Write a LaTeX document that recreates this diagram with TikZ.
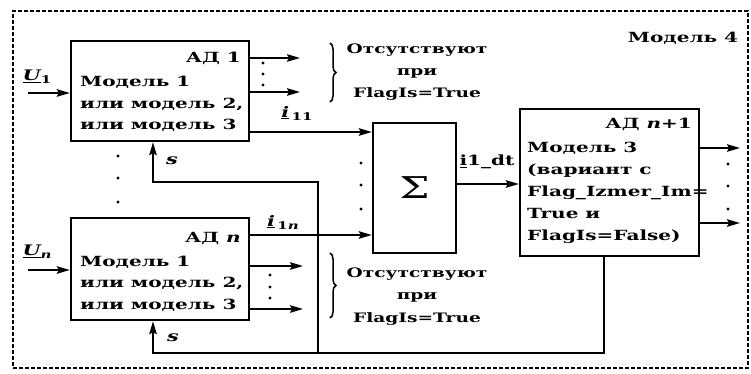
\documentclass[tikz,border=0pt]{standalone}
\usepackage{fontspec}
\setmainfont{DejaVu Serif}[FakeStretch=1.43]
\usetikzlibrary{arrows.meta,decorations.pathreplacing}
\begin{document}
\begin{tikzpicture}[x=1pt,y=-1pt,
  box/.style={draw,line width=2.4pt,inner sep=0pt},
  conn/.style={line width=1.8pt},
  arr/.style={conn,-{Stealth[length=13pt,width=7.5pt,inset=2pt]}},
  txt/.style={inner sep=0pt,font=\fontsize{14}{21.5}\selectfont\bfseries},
  abst/.style={inner sep=0pt,align=center,anchor=base,font=\fontsize{13}{22}\selectfont\bfseries},
  lbl/.style={inner sep=0pt,font=\fontsize{14.5}{16}\selectfont\bfseries\itshape},
  dot/.style={circle,fill,inner sep=0pt,minimum size=3.4pt},
  br/.style={decorate,decoration={brace,amplitude=6pt},line width=1.5pt}]
\useasboundingbox (0,0) rectangle (751,374);
\node[draw,line width=1.2pt,dash pattern=on 4pt off 2pt,minimum width=735pt,minimum height=357pt,inner sep=0pt] (frame) at (380.5,189.5) {};
% boxes
\node[box,minimum width=178pt,minimum height=100pt] (ad1) at (160,91) {};
\node[box,minimum width=178pt,minimum height=102pt] (adn) at (160,269) {};
\node[box,minimum width=83pt,minimum height=130pt] (sum) at (414.5,188) {};
\node[box,minimum width=179pt,minimum height=147pt] (adn1) at (609.5,182.5) {};
% texts (base anchor of a multi-line node = last line)
\node[txt,anchor=base east] (ad1t) at (241,63) {АД 1};
\node[txt,anchor=base west,align=left] (ad1m) at (80,130) {Модель 1\\или модель 2,\\или модель 3};
\node[txt,anchor=base east] (adnt) at (241,242) {АД \textit{n}};
\node[txt,anchor=base west,align=left] (adnm) at (80,309) {Модель 1\\или модель 2,\\или модель 3};
\node[txt,anchor=base east] (adn1t) at (692,129) {АД \textit{n}+1};
\node[txt,anchor=base west,align=left,font=\fontsize{14}{22}\selectfont\bfseries] (adn1m) at (527,240) {Модель 3\\(вариант с\\Flag\_Izmer\_Im=\\True и\\FlagIs=False)};
\node[inner sep=0pt,font=\fontsize{30}{30}\selectfont] (sig) at (sum.center) {Σ};
\node[txt,anchor=base] (m4) at (683,43) {Модель 4};
\node[abst] (abs1) at (417,98) {Отсутствуют\\при\\FlagIs=True};
\node[abst,font=\fontsize{13}{22.5}\selectfont\bfseries] (abs2) at (417,322) {Отсутствуют\\при\\FlagIs=True};
% labels
\node[lbl] (u1) at (37,77) {\underline{U}\raisebox{-3pt}{\upshape\fontsize{10.5}{10}\selectfont 1}};
\node[lbl] (un) at (37,252) {\underline{U}\raisebox{-3pt}{\fontsize{10.5}{10}\selectfont n}};
\node[lbl] (i11) at (297,113) {\underline{i}\,\raisebox{-3pt}{\upshape\fontsize{10.5}{10}\selectfont 11}};
\node[lbl] (i1n) at (283,222) {\underline{i}\,\raisebox{-3pt}{\upshape\fontsize{10.5}{10}\selectfont 1\itshape n}};
\node[txt] (idt) at (487,162) {\underline{i}1\_dt};
\node[lbl] (s1) at (172,161) {s};
\node[lbl] (s2) at (173,338) {s};
% coordinates
\coordinate (u1s) at (28,93);
\coordinate (uns) at (28,270);
\coordinate (o1a) at (300,58);
\coordinate (o1b) at (300,92);
\coordinate (ona) at (303,266);
\coordinate (onb) at (303,309);
\coordinate (y11) at (0,132);
\coordinate (y1n) at (0,235);
\coordinate (ydt) at (0,184);
\coordinate (r1) at (740,148);
\coordinate (r2) at (740,223);
\coordinate (fbA) at (604,353);
\coordinate (fbB) at (153,353);
\coordinate (fbC) at (318,353);
\coordinate (fbD) at (318,182);
\coordinate (fbE) at (153,182);
% connectors
\draw[arr] (u1s) -- (u1s -| ad1.west);
\draw[arr] (uns) -- (uns -| adn.west);
\draw[arr] (ad1.east |- o1a) -- (o1a);
\draw[arr] (ad1.east |- o1b) -- (o1b);
\draw[arr] (adn.east |- ona) -- (ona);
\draw[arr] (adn.east |- onb) -- (onb);
\draw[arr] (ad1.east |- y11) -- (sum.west |- y11);
\draw[arr] (adn.east |- y1n) -- (sum.west |- y1n);
\draw[arr] (sum.east |- ydt) -- (adn1.west |- ydt);
\draw[arr] (adn1.east |- r1) -- (r1);
\draw[arr] (adn1.east |- r2) -- (r2);
\draw[arr] (adn1.south -| fbA) -- (fbA) -- (fbB) -- (adn.south -| fbB);
\draw[arr] (fbC) -- (fbD) -- (fbE) -- (ad1.south -| fbE);
% dots
\foreach \x/\y [count=\i] in {263/63,263/74,263/85,270/275,270/287,270/298,361/163,361/185,361/209,118/156,118/178,118/202,728/164,728/186,728/209}
  \node[dot] (d\i) at (\x,\y) {};
% braces
\draw[br] (330,43) -- (330,102);
\draw[br] (330,253) -- (330,318);
\end{tikzpicture}
\end{document}
